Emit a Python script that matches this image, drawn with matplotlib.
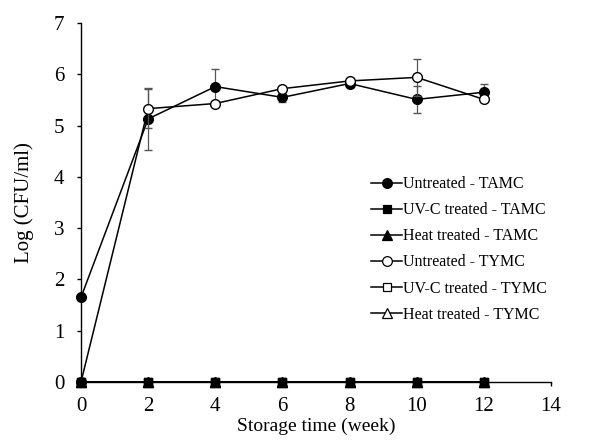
import matplotlib

matplotlib.use("Agg")
import matplotlib.pyplot as plt  # noqa: E402

# Storage time (week)
weeks = [0, 2, 4, 6, 8, 10, 12]

# Log (CFU/ml) values
untreated_tamc = [1.65, 5.13, 5.76, 5.55, 5.82, 5.51, 5.65]
untreated_tamc_err = [0.0, 0.60, 0.35, 0.10, 0.05, 0.27, 0.17]
uvc_tamc = [0, 0, 0, 0, 0, 0, 0]
heat_tamc = [0, 0, 0, 0, 0, 0, 0]
untreated_tymc = [0.0, 5.33, 5.43, 5.72, 5.87, 5.94, 5.51]
untreated_tymc_err = [0.0, 0.38, 0.05, 0.05, 0.05, 0.36, 0.05]
uvc_tymc = [0, 0, 0, 0, 0, 0, 0]
heat_tymc = [0, 0, 0, 0, 0, 0, 0]

labels = [
    "Untreated - TAMC",
    "UV-C treated - TAMC",
    "Heat treated - TAMC",
    "Untreated - TYMC",
    "UV-C treated - TYMC",
    "Heat treated - TYMC",
]

plt.rcParams["font.family"] = ["Liberation Serif", "DejaVu Serif"]

fig = plt.figure(figsize=(5.98, 4.43), dpi=100)
ax = fig.add_axes([81 / 598, 61 / 443, 470 / 598, 359 / 443])

common = dict(color="black", linewidth=1.1,
              ecolor="#555555", elinewidth=0.9, capsize=3, capthick=0.9)
msize = {"o": 7, "s": 5.5, "^": 6.5}

# (values, errors, marker, face colour), drawn in this order
series = [
    (untreated_tamc, untreated_tamc_err, "o", "black"),
    (untreated_tymc, untreated_tymc_err, "o", "white"),
    (uvc_tymc, None, "s", "white"),
    (heat_tymc, None, "^", "white"),
    (uvc_tamc, None, "s", "black"),
    (heat_tamc, None, "^", "black"),
]
for i, (vals, err, mk, fc) in enumerate(series):
    ax.errorbar(weeks, vals, yerr=err, marker=mk, markersize=msize[mk],
                markerfacecolor=fc, markeredgecolor="black",
                markeredgewidth=1.0, clip_on=False, zorder=3 + i, **common)

# legend in the original order
order = [0, 4, 5, 1, 2, 3]
leg_handles = []
for idx in order:
    vals, err, mk, fc = series[idx]
    (ln,) = ax.plot([], [], color="black", linewidth=1.1, marker=mk,
                    markersize=msize[mk], markerfacecolor=fc,
                    markeredgecolor="black", markeredgewidth=0.9)
    leg_handles.append(ln)

ax.legend(leg_handles, labels, loc="upper left",
          bbox_to_anchor=(0.618, 0.573), frameon=False, fontsize=11.5,
          handlelength=1.9, handletextpad=0.1, labelspacing=0.63,
          borderaxespad=0, borderpad=0)

ax.set_xlim(0, 14)
ax.set_ylim(0, 7)
ax.set_xticks(range(0, 15, 2))
ax.set_yticks(range(0, 8))
for s in ["top", "right"]:
    ax.spines[s].set_visible(False)
for s in ["left", "bottom"]:
    ax.spines[s].set_linewidth(1.0)
ax.tick_params(direction="out", length=3, width=1.0, labelsize=15)
ax.tick_params(axis="x", pad=8)
ax.tick_params(axis="y", pad=9)
ax.set_xlabel("Storage time (week)", fontsize=14, labelpad=1)
ax.set_ylabel("Log (CFU/ml)", fontsize=15, labelpad=14)

fig.savefig("out.png", dpi=100)
